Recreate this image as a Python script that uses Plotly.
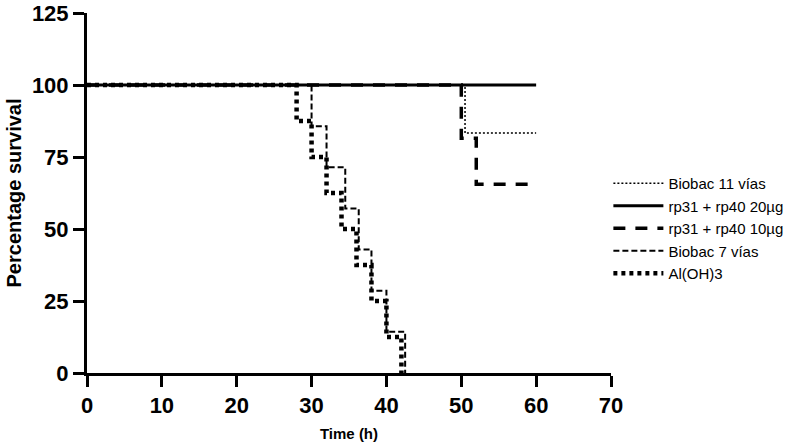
import plotly.graph_objects as go

# Data (Kaplan-Meier step curves)
t_biobac11 = [0, 50.5, 60]
s_biobac11 = [100, 83.3, 83.3]

t_rp20 = [0, 60]
s_rp20 = [100, 100]

t_rp10 = [0, 50, 52, 60]
s_rp10 = [100, 81.5, 65.5, 65.5]

t_biobac7 = [0, 30, 32, 34.5, 36.3, 38, 40, 42.5]
s_biobac7 = [100, 85.7, 71.4, 57.1, 42.9, 28.6, 14.3, 0]

t_aloh = [0, 28, 30, 32, 34, 36, 38, 40, 42]
s_aloh = [100, 87.5, 75, 62.5, 50, 37.5, 25, 12.5, 0]

x_ticks = [0, 10, 20, 30, 40, 50, 60, 70]
y_ticks = [0, 25, 50, 75, 100, 125]

fig = go.Figure()
fig.add_trace(go.Scatter(x=t_biobac11, y=s_biobac11, mode="lines", line_shape="hv",
                         name="Biobac 11 vías", line=dict(color="black", width=1.5, dash="2px,2px")))
fig.add_trace(go.Scatter(x=t_rp20, y=s_rp20, mode="lines", line_shape="hv",
                         name="rp31 + rp40 20µg", line=dict(color="black", width=3)))
fig.add_trace(go.Scatter(x=t_rp10, y=s_rp10, mode="lines", line_shape="hv",
                         name="rp31 + rp40 10µg", line=dict(color="black", width=3.5, dash="12px,10px")))
fig.add_trace(go.Scatter(x=t_biobac7, y=s_biobac7, mode="lines", line_shape="hv",
                         name="Biobac 7 vías", line=dict(color="black", width=2, dash="6px,3px")))
fig.add_trace(go.Scatter(x=t_aloh, y=s_aloh, mode="lines", line_shape="hv",
                         name="Al(OH)3", line=dict(color="black", width=4.5, dash="4px,4px")))

axis_font = dict(family="Liberation Sans, Arial", size=22, color="black")
fig.update_layout(
    width=800, height=447,
    margin=dict(l=87, r=187, t=13, b=74),
    paper_bgcolor="white", plot_bgcolor="white",
    font=dict(family="Liberation Sans, Arial", color="black"),
    showlegend=True,
    legend=dict(x=0.995, y=0.572, xanchor="left", yanchor="top",
                font=dict(family="Liberation Sans, Arial", size=15, color="black"),
                bgcolor="rgba(0,0,0,0)", tracegroupgap=0, itemwidth=50),
    xaxis=dict(range=[0, 70], tickvals=x_ticks, ticktext=[f"<b>{v}</b>" for v in x_ticks],
               showgrid=False, zeroline=False, showline=True, linecolor="black", linewidth=3,
               ticks="outside", ticklen=11, tickwidth=3, tickcolor="black", automargin=False,
               tickfont=axis_font, ticklabeloverflow="allow",
               title=dict(text="<b>Time (h)</b>", font=dict(family="Liberation Sans, Arial", size=15), standoff=12)),
    yaxis=dict(range=[0, 125], tickvals=y_ticks, ticktext=[f"<b>{v}</b>" for v in y_ticks],
               showgrid=False, zeroline=False, showline=True, linecolor="black", linewidth=3,
               ticks="outside", ticklen=11, tickwidth=3, tickcolor="black", automargin=False,
               tickfont=axis_font, ticklabeloverflow="allow",
               title=dict(text="<b>Percentage survival</b>", font=dict(family="Liberation Sans, Arial", size=20), standoff=5)),
)

fig.write_html("out.html", config={"displayModeBar": False},
               post_script="document.body.style.margin='0';")
